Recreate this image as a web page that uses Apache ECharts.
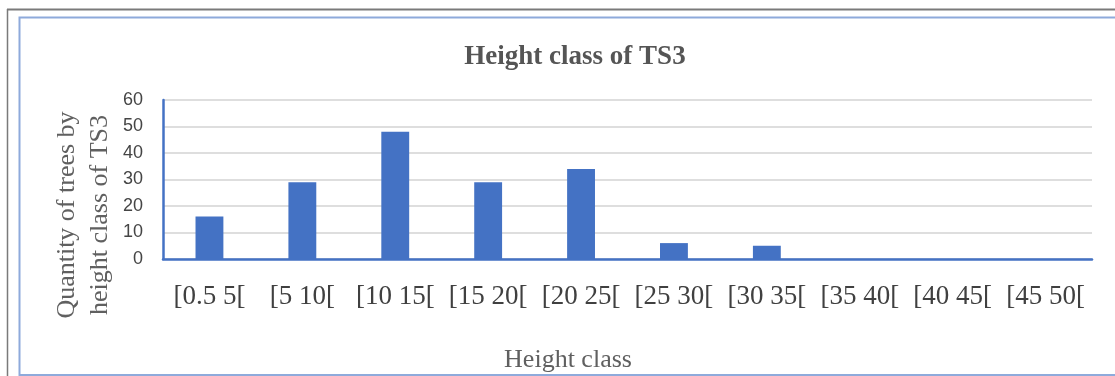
<!DOCTYPE html>
<html>
<head>
<meta charset="utf-8">
<script src="https://cdn.jsdelivr.net/npm/echarts@6/dist/echarts.min.js"></script>
<style>
html,body{margin:0;padding:0;background:#fff;}
#chart{width:1115px;height:376px;}
</style>
</head>
<body>
<div id="chart"></div>
<script>
const titleText = "Height class of TS3";
const xAxisTitle = "Height class";
const yAxisTitle = "Quantity of trees by\nheight class of TS3";
const categories = ["[0.5 5[", "[5 10[", "[10 15[", "[15 20[", "[20 25[", "[25 30[", "[30 35[", "[35 40[", "[40 45[", "[45 50["];
const treeCounts = [16, 29, 48, 29, 34, 6, 5, 0, 0, 0];
const yTicks = [0, 10, 20, 30, 40, 50, 60];

const chart = echarts.init(document.getElementById('chart'));
chart.setOption({
  animation: false,
  backgroundColor: '#ffffff',
  title: [
    {
      text: titleText,
      left: 570, top: 39, textAlign: 'center',
      textStyle: {fontFamily: 'Liberation Serif', fontWeight: 'bold', fontSize: 27, color: '#555555'}
    },
    {
      text: xAxisTitle,
      left: 563, top: 342, textAlign: 'center',
      textStyle: {fontFamily: 'Liberation Serif', fontWeight: 'normal', fontSize: 26, color: '#606060'}
    }
  ],
  graphic: [
    {type: 'line', shape: {x1: 7, y1: 9.5, x2: 1115, y2: 9.5}, style: {stroke: '#7a7a7a', lineWidth: 2}},
    {type: 'line', shape: {x1: 7.5, y1: 9, x2: 7.5, y2: 376}, style: {stroke: '#7a7a7a', lineWidth: 1.5}},
    {type: 'rect', shape: {x: 19.5, y: 17.5, width: 1110, height: 357.5}, style: {fill: 'none', stroke: '#8eaadb', lineWidth: 2}},
    {
      type: 'text', x: 84, y: 215, rotation: Math.PI / 2,
      style: {
        text: yAxisTitle, fontFamily: 'Liberation Serif', fontSize: 26, fill: '#606060',
        align: 'center', verticalAlign: 'middle', lineHeight: 33
      }
    }
  ],
  grid: {left: 163, right: 23, top: 100, bottom: 117},
  xAxis: {
    type: 'category',
    data: categories,
    axisLine: {lineStyle: {color: '#4472C4', width: 2.5}},
    axisTick: {show: false},
    axisLabel: {
      interval: 0, margin: 24, fontFamily: 'Liberation Serif', fontSize: 27, color: '#404040'
    }
  },
  yAxis: {
    type: 'value',
    min: yTicks[0], max: yTicks[yTicks.length - 1], interval: 10,
    axisLine: {show: true, lineStyle: {color: '#4472C4', width: 2.5}},
    axisTick: {show: false},
    axisLabel: {margin: 20, fontFamily: 'Liberation Sans', fontSize: 18, color: '#454545'},
    splitLine: {lineStyle: {color: '#dedede', width: 2}}
  },
  series: [{
    type: 'bar',
    data: treeCounts,
    barWidth: '30%',
    itemStyle: {color: '#4472C4'}
  }]
});
</script>
</body>
</html>
